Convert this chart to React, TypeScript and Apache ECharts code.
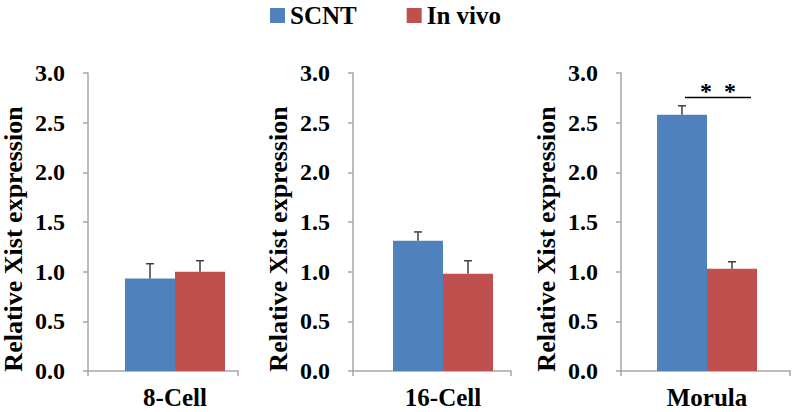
import React, { useEffect, useRef } from "react";
import * as echarts from "echarts";

const stages = ["8-Cell", "16-Cell", "Morula"];
const seriesNames = ["SCNT", "In vivo"];
const scntValues = [0.93, 1.31, 2.58];
const scntErrors = [0.15, 0.09, 0.09];
const inVivoValues = [1.0, 0.98, 1.03];
const inVivoErrors = [0.11, 0.13, 0.07];
const yMin = 0;
const yMax = 3;
const yInterval = 0.5;
const significanceMarks = ["", "", "*  *"];
const yAxisTitle = "Relative Xist expression";

// layout (pixels)
const axisLeft = [88, 353, 621];
const axisWidth = [150, 158, 169];
const barCenter = [175, 443, 719.5];
const GRID_TOP = 73;
const GRID_HEIGHT = 298;
const BAR_WIDTH = 50;
const FONT = "Liberation Serif";
const COLORS = ["#4F81BD", "#C0504D"];
const AXIS_COLOR = "#A6A6A6";

export default function App() {
  const ref = useRef<HTMLDivElement>(null);
  useEffect(() => {
    if (!ref.current) return;
    const chart = echarts.init(ref.current, undefined, { renderer: "svg" });
    const grids: any[] = [];
    const xAxes: any[] = [];
    const yAxes: any[] = [];
    const series: any[] = [];
    stages.forEach((stage, i) => {
      grids.push({ left: axisLeft[i], width: axisWidth[i], top: GRID_TOP, height: GRID_HEIGHT });
      const bw = 2 * (barCenter[i] - axisLeft[i]);
      grids.push({ left: axisLeft[i], width: bw, top: GRID_TOP, height: GRID_HEIGHT });
      xAxes.push({
        gridIndex: 2 * i,
        type: "category",
        data: [stage],
        axisLine: { show: true, lineStyle: { color: AXIS_COLOR, width: 1.5 } },
        axisTick: { show: true, length: 5, lineStyle: { color: AXIS_COLOR, width: 1.5 } },
        axisLabel: { show: false },
      });
      xAxes.push({
        gridIndex: 2 * i + 1,
        type: "category",
        data: [stage],
        axisLine: { show: false },
        axisTick: { show: false },
        axisLabel: {
          fontSize: 25,
          fontWeight: "bold",
          fontFamily: FONT,
          color: "#000",
          margin: 14,
        },
      });
      yAxes.push({
        gridIndex: 2 * i,
        type: "value",
        min: yMin,
        max: yMax,
        interval: yInterval,
        axisLine: { show: true, lineStyle: { color: AXIS_COLOR, width: 1.5 } },
        axisTick: { show: true, length: 5, lineStyle: { color: AXIS_COLOR, width: 1.5 } },
        splitLine: { show: false },
        axisLabel: {
          formatter: (v: number) => v.toFixed(1),
          fontSize: 24,
          fontWeight: "bold",
          fontFamily: FONT,
          color: "#000",
          margin: 23,
        },
      });
      yAxes.push({
        gridIndex: 2 * i + 1,
        type: "value",
        min: yMin,
        max: yMax,
        show: false,
      });
      const vals = [scntValues[i], inVivoValues[i]];
      const errs = [scntErrors[i], inVivoErrors[i]];
      seriesNames.forEach((name, s) => {
        series.push({
          type: "bar",
          name,
          xAxisIndex: 2 * i + 1,
          yAxisIndex: 2 * i + 1,
          data: [vals[s]],
          barWidth: BAR_WIDTH,
          barGap: "0%",
          itemStyle: { color: COLORS[s] },
        });
      });
      series.push({
        type: "custom",
        xAxisIndex: 2 * i + 1,
        yAxisIndex: 2 * i + 1,
        encode: { x: 0, y: 1 },
        data: [
          [0, vals[0], errs[0], -1],
          [0, vals[1], errs[1], 1],
        ],
        renderItem: (params: any, api: any) => {
          const base = api.coord([api.value(0), api.value(1)]);
          const top = api.coord([api.value(0), api.value(1) + api.value(2)]);
          const cx = base[0] + (api.value(3) * BAR_WIDTH) / 2;
          const st = { stroke: "#3F3F3F", lineWidth: 1.5 };
          return {
            type: "group",
            children: [
              { type: "line", shape: { x1: cx, y1: base[1], x2: cx, y2: top[1] }, style: st },
              { type: "line", shape: { x1: cx - 4, y1: top[1], x2: cx + 4, y2: top[1] }, style: st },
            ],
          };
        },
        z: 5,
      });
    });

    const graphic: any[] = [];
    axisLeft.forEach((ax, i) => {
      graphic.push({
        type: "text",
        x: ax - 75,
        y: 239,
        rotation: Math.PI / 2,
        style: {
          text: yAxisTitle,
          fontSize: 26,
          fontWeight: "bold",
          fontFamily: FONT,
          fill: "#000",
          align: "center",
          verticalAlign: "middle",
        },
      });
      if (significanceMarks[i]) {
        graphic.push({
          type: "line",
          shape: { x1: 685, y1: 97.5, x2: 751, y2: 97.5 },
          style: { stroke: "#000", lineWidth: 1.5 },
        });
        graphic.push({
          type: "text",
          x: 718,
          y: 79,
          style: {
            text: significanceMarks[i],
            fontSize: 24,
            fontWeight: "bold",
            fontFamily: FONT,
            fill: "#000",
            align: "center",
            verticalAlign: "top",
          },
        });
      }
    });

    chart.setOption({
      animation: false,
      backgroundColor: "#fff",
      legend: {
        data: seriesNames,
        left: 265,
        top: -2,
        icon: "rect",
        itemWidth: 15,
        itemHeight: 15,
        itemGap: 50,
        textStyle: { fontSize: 25, fontWeight: "bold", fontFamily: FONT, color: "#000" },
      },
      grid: grids,
      xAxis: xAxes,
      yAxis: yAxes,
      series,
      graphic,
    });
    return () => chart.dispose();
  }, []);
  return (
    <div
      ref={ref}
      style={{ position: "fixed", left: 0, top: 0, width: 793, height: 412 }}
    />
  );
}
